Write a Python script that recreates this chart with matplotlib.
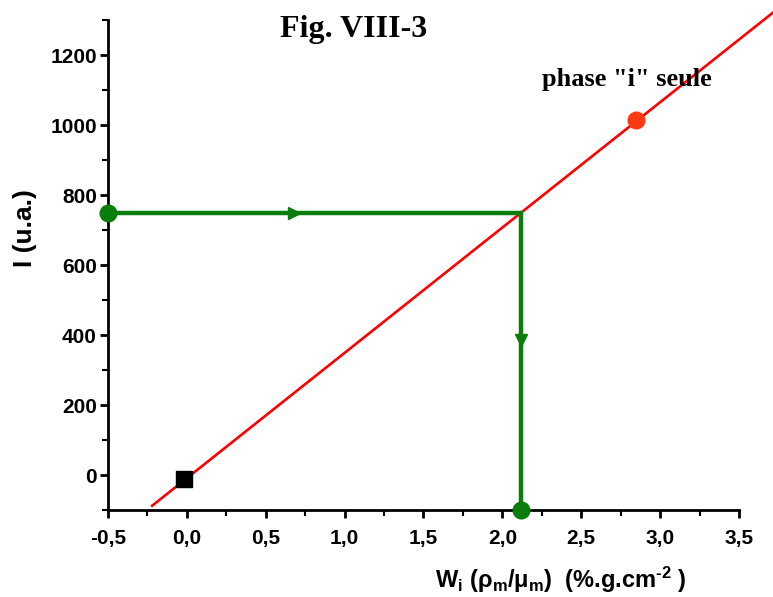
# fig_viii_3.py
# calibration line for phase "i" with reading of an unknown sample

import numpy as np
from matplotlib import pyplot as plt
from matplotlib.ticker import MultipleLocator, FuncFormatter

plt.rcParams["mathtext.fontset"] = "custom"
plt.rcParams["mathtext.rm"] = "Liberation Sans:bold"
plt.rcParams["mathtext.bf"] = "Liberation Sans:bold"
plt.rcParams["mathtext.it"] = "Liberation Sans:bold"

# calibration points (W_i rho_m/mu_m, intensity)
calib_x = [-0.02, 2.85]
calib_y = [-10, 1014]
# fitted straight line
fit_slope = 358.0
fit_intercept = -9.0
fit_range = [-0.22, 3.82]
# reading of the unknown sample
read_intensity = 750
read_w = 2.12
axis_x0 = -0.5
axis_y0 = -100

fig = plt.figure(figsize=(7.73, 5.97), dpi=100)
ax = fig.add_axes([0.1397, 0.1457, 0.8163, 0.8208])

# red calibration line, allowed to run past the axes
fx = np.array(fit_range)
ax.plot(fx, fit_slope * fx + fit_intercept, color="red", lw=1.9,
        clip_on=False, zorder=2)

# points
ax.plot(calib_x[0], calib_y[0], "s", color="black", ms=11, zorder=3)
ax.plot(calib_x[1], calib_y[1], "o", color="#ff3a12", ms=12, zorder=3,
        clip_on=False)

# green reading path
green = "#0a7d0a"
ax.plot([axis_x0, read_w, read_w], [read_intensity, read_intensity, axis_y0],
        color=green, lw=3.2, solid_joinstyle="miter", zorder=4, clip_on=False)
ax.plot([axis_x0], [read_intensity], "o", color=green, ms=12, clip_on=False, zorder=5)
ax.plot([read_w], [axis_y0], "o", color=green, ms=12, clip_on=False, zorder=5)
# direction arrows along the path
ax.plot(axis_x0 + 0.45 * (read_w - axis_x0), read_intensity, ">", color=green,
        ms=9, zorder=5)
ax.plot(read_w, axis_y0 + 0.57 * (read_intensity - axis_y0), "v", color=green,
        ms=9, zorder=5)

# axes
ax.set_xlim(-0.5, 3.5)
ax.set_ylim(-100, 1300)
ax.spines["top"].set_visible(False)
ax.spines["right"].set_visible(False)
for s in ("left", "bottom"):
    ax.spines[s].set_linewidth(2)
ax.xaxis.set_major_locator(MultipleLocator(0.5))
ax.xaxis.set_minor_locator(MultipleLocator(0.25))
ax.yaxis.set_major_locator(MultipleLocator(200))
ax.yaxis.set_minor_locator(MultipleLocator(100))
ax.xaxis.set_major_formatter(FuncFormatter(lambda v, p: f"{v:.1f}".replace(".", ",")))
ax.tick_params(which="major", length=6, width=2, direction="out")
ax.tick_params(which="minor", length=4, width=1.5, direction="out")
ax.tick_params(axis="x", pad=8)
ax.tick_params(axis="y", pad=2)
for lab in ax.get_xticklabels() + ax.get_yticklabels():
    lab.set_fontfamily("Liberation Sans")
    lab.set_fontweight("bold")
    lab.set_fontsize(15)

fig.text(0.725, 0.028,
         r"W$_\mathrm{i}$ ($\mathrm{\rho_m}$/$\mathrm{\mu_m}$)  (%.g.cm$^{\mathrm{‐2}}$ )",
         fontfamily="Liberation Sans", fontweight="bold", fontsize=17,
         ha="center", va="center")
ax.set_ylabel("I (u.a.)", fontfamily="Liberation Sans", fontweight="bold",
              fontsize=19)
ax.yaxis.set_label_coords(-0.112, 0.576)

fig.text(0.458, 0.95, "Fig. VIII-3", fontfamily="Liberation Serif",
         fontweight="bold", fontsize=23, ha="center", va="center")
ax.text(2.25, 1129, 'phase "i" seule', fontfamily="Liberation Serif",
        fontweight="bold", fontsize=19, ha="left", va="center")

plt.savefig("out.png", dpi=100)
